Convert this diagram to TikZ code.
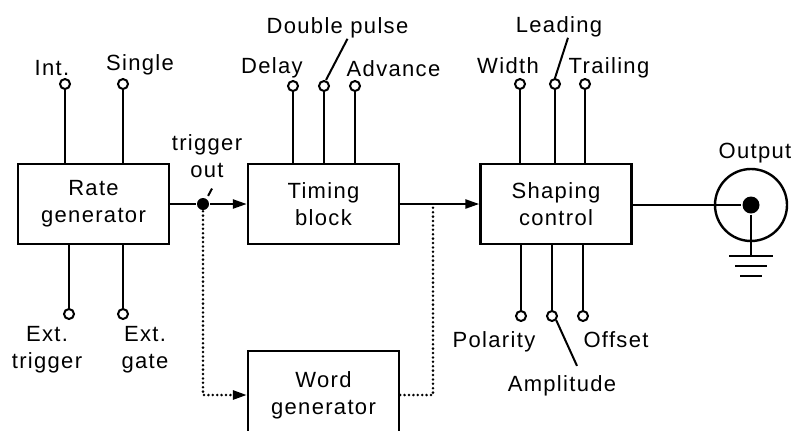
\documentclass[tikz,border=0pt]{standalone}
\usepackage{fontspec}
\setmainfont{Liberation Sans}[LetterSpace=6]
\usetikzlibrary{arrows.meta}

\begin{document}
\begin{tikzpicture}[x=0.5pt, y=-0.5pt, line width=1.2pt, >={Triangle[length=7pt, width=4.5pt]},
	every node/.style={font=\fontsize{11}{13.5}\selectfont},
	blk/.style={draw, minimum width=75.5pt, minimum height=40pt, align=center, inner sep=0pt},
	term/.style={draw, circle, fill=white, inner sep=0pt, minimum size=5pt, line width=1pt},
	lab/.style={inner sep=0pt, anchor=base},
	labs/.style={inner sep=0pt, anchor=north, align=center},
	dots/.style={line width=1.4pt, line cap=round, dash pattern=on 0pt off 2.2pt}]
	\useasboundingbox (0,0) rectangle (794,430);
	% blocks
	\node[blk] (rate) at (93.5,204) {Rate\\generator};
	\node[blk] (timing) at (323.5,204) {Timing\\block};
	\node[blk] (shaping) at (556,204) {Shaping\\control};
	\node[blk, minimum height=44pt] (word) at (323.5,395) {Word\\generator};
	% control terminals
	\node[term] (int) at (65,84) {};
	\node[term] (single) at (123,84) {};
	\node[term] (exttrig) at (69,314) {};
	\node[term] (extgate) at (123,314) {};
	\node[term] (delay) at (293,86) {};
	\node[term] (double) at (324,86) {};
	\node[term] (advance) at (355,86) {};
	\node[term] (width) at (520,84) {};
	\node[term] (leading) at (555,84) {};
	\node[term] (trailing) at (585,84) {};
	\node[term] (polarity) at (521,316) {};
	\node[term] (amplitude) at (552,316) {};
	\node[term] (offset) at (583,316) {};
	\foreach \t in {int,single} {\draw (\t) -- (\t |- rate.north);}
	\foreach \t in {exttrig,extgate} {\draw (\t) -- (\t |- rate.south);}
	\foreach \t in {delay,double,advance} {\draw (\t) -- (\t |- timing.north);}
	\foreach \t in {width,leading,trailing} {\draw (\t) -- (\t |- shaping.north);}
	\foreach \t in {polarity,amplitude,offset} {\draw (\t) -- (\t |- shaping.south);}
	% labels
	\node[lab] (intlab) at (52,75) {Int.};
	\node[lab] (singlelab) at (140,70) {Single};
	\node[labs] (exttriglab) at (47,325) {Ext.\\trigger};
	\node[labs] (extgatelab) at (145,325) {Ext.\\gate};
	\node[labs] (trigoutlab) at (207,133) {trigger\\out};
	\node[lab] (delaylab) at (272,73) {Delay};
	\node[lab] (doublelab) at (337.5,33) {Double pulse};
	\node[lab] (advancelab) at (393.5,76) {Advance};
	\node[lab] (widthlab) at (508,73) {Width};
	\node[lab] (leadinglab) at (559,32) {Leading};
	\node[lab] (trailinglab) at (609,73) {Trailing};
	\node[lab] (polaritylab) at (494,347) {Polarity};
	\node[lab] (offsetlab) at (616,347) {Offset};
	\node[lab] (amplitudelab) at (562,391) {Amplitude};
	\node[lab] (outputlab) at (755,158) {Output};
	% signal path
	\node[circle, fill, inner sep=0pt, minimum size=6pt] (trig) at (203,204) {};
	\coordinate (branch) at (433,204);
	\draw (rate.east) -- (trig);
	\draw[->] (trig) -- (timing.west);
	\draw[->] (timing.east) -- (shaping.west);
	\draw[dots, ->] (trig) |- (word.west);
	\draw[dots] (word.east) -| (branch);
	% output connector
	\node[circle, draw, inner sep=0pt, minimum size=36pt] (out) at (751,205) {};
	\node[circle, fill, inner sep=0pt, minimum size=8.5pt] (outdot) at (out.center) {};
	\draw (shaping.east |- outdot) -- (outdot);
	\draw (outdot) -- ++(0,51) coordinate (gnd);
	\draw (gnd) ++(-22,0) -- ++(44,0);
	\draw (gnd) ++(-16,10) -- ++(32,0);
	\draw (gnd) ++(-11,20) -- ++(22,0);
	% leader lines
	\draw[line width=1pt] ([yshift=1.5pt]trig.north east) -- ([xshift=2.5pt, yshift=-5pt]trigoutlab.south);
	\draw[line width=1pt] ([xshift=1pt]double.north) -- ([xshift=5pt]doublelab.south);
	\draw[line width=1pt] (leading.north) -- ([xshift=4.5pt]leadinglab.south);
	\draw[line width=1pt] (amplitude.south east) -- ([xshift=7.5pt, yshift=4pt]amplitudelab.north);
\end{tikzpicture}
\end{document}
